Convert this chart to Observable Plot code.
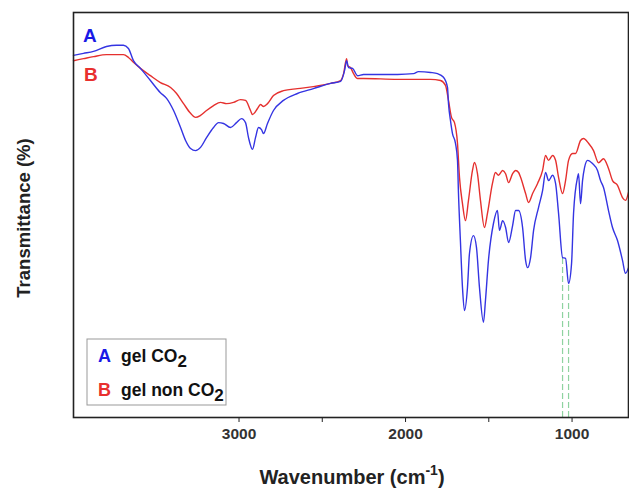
<!DOCTYPE html>
<html>
<head>
<meta charset="utf-8">
<script src="https://cdn.jsdelivr.net/npm/d3@7"></script>
<script src="https://cdn.jsdelivr.net/npm/@observablehq/plot@0.6"></script>
<style>
  html, body { margin: 0; padding: 0; background: #fff; }
  #chart { width: 629px; height: 491px; position: relative; }
</style>
</head>
<body>
<div id="chart"></div>
<script>
// Curve A: gel CO2 (wavenumber cm-1, transmittance, arbitrary %)
const wnA = [3994,3934,3874,3796,3736,3694,3664,3634,3592,3532,3472,3435,3393,3351,3321,3291,3261,3231,3195,3153,3123,3093,3051,3015,2985,2961,2943,2919,2901,2883,2865,2853,2829,2793,2733,2649,2553,2450,2390,2366,2354,2342,2318,2288,2252,2048,1952,1922,1850,1808,1772,1748,1742,1730,1718,1700,1688,1682,1670,1658,1646,1628,1616,1592,1574,1556,1532,1520,1502,1472,1448,1436,1417,1399,1381,1357,1339,1321,1297,1279,1267,1249,1231,1201,1177,1159,1141,1117,1099,1081,1057,1039,1021,1003,991,967,961,949,937,925,907,877,847,829,811,781,757,727,697,679,661];
const tA  = [89.4,89.9,90.4,91.6,91.9,91.9,91.1,88.1,86.2,83.2,80.2,78.8,75.8,71.6,68.4,66.4,65.9,66.7,69.1,71.6,72.8,72.6,71.6,72.8,73.8,72.8,69.1,66.2,69.1,71.6,71.1,70.1,72.6,75.8,78.3,80.0,81.2,82.5,83.0,85.7,88.1,86.4,86.2,84.4,84.7,84.7,84.9,85.4,85.2,84.9,84.0,81.5,77.5,73.3,70.1,67.7,63.5,55.3,43.2,32.1,26.4,32.1,40.5,44.9,42.0,32.1,23.5,28.9,38.8,47.9,51.1,46.2,48.6,46.9,43.2,47.4,51.1,51.1,46.9,38.8,37.0,39.5,46.2,51.9,56.0,60.5,58.5,59.8,57.8,50.4,39.5,39.3,33.1,38.0,50.4,59.3,60.2,52.8,58.5,61.7,63.5,62.7,61.0,58.5,56.8,51.1,46.9,43.7,38.8,35.6,37.0];

// Curve B: gel non CO2
const wnB = [3994,3934,3874,3796,3694,3664,3634,3592,3532,3472,3411,3375,3333,3291,3261,3231,3195,3153,3111,3075,3033,2991,2961,2931,2919,2889,2871,2853,2829,2793,2733,2649,2553,2450,2390,2372,2354,2348,2330,2312,2288,2252,2048,1850,1790,1760,1742,1724,1706,1688,1676,1658,1640,1622,1598,1586,1568,1550,1526,1508,1478,1460,1442,1417,1399,1381,1357,1339,1321,1309,1279,1261,1237,1207,1177,1159,1141,1117,1099,1081,1057,1039,1021,997,979,949,931,901,871,841,811,781,757,727,697,679,661];
const tB  = [88.1,88.6,89.1,89.6,89.6,88.9,87.7,86.2,84.4,82.7,81.5,80.0,77.5,75.1,74.1,74.6,75.8,77.0,77.8,77.5,77.8,78.5,78.3,75.8,74.8,76.3,77.3,76.8,77.5,79.5,80.7,81.2,81.7,82.5,83.2,84.9,88.6,86.9,86.4,84.9,83.7,83.7,83.5,83.5,83.2,82.0,78.3,74.1,72.8,67.7,59.3,52.8,48.6,53.6,61.0,63.0,60.2,53.6,46.9,50.4,57.8,60.5,59.8,61.0,60.2,58.0,60.2,61.0,60.5,59.3,55.3,53.1,55.3,57.8,61.0,64.7,63.5,64.7,63.5,59.3,55.3,58.5,63.5,65.2,65.2,68.4,68.9,67.7,65.9,62.9,63.9,61.5,58.5,57.3,54.3,53.6,55.6];

// Dashed marker lines (wavenumber, upper end)
const markWn  = [1057, 1021];
const markTop = [39.5, 33.1];

const majorTicks = [3000, 2000, 1000];
const minorTicks = [2500, 1500];

const seriesA = wnA.map((w, i) => ({wn: w, t: tA[i]}));
const seriesB = wnB.map((w, i) => ({wn: w, t: tB[i]}));
const marks = markWn.map((w, i) => ({wn: w, top: markTop[i]}));

const blue = "#3434e2";
const red = "#e5302e";

const plot = Plot.plot({
  width: 629,
  height: 491,
  marginLeft: 73,
  marginRight: 1,
  marginTop: 12,
  marginBottom: 74,
  style: {fontFamily: "'Liberation Sans', Arial, sans-serif", fontWeight: "bold", background: "#fff"},
  x: {domain: [3994, 661]},
  y: {domain: [0, 100], axis: null},
  marks: [
    Plot.ruleX(marks, {x: "wn", y1: 0, y2: "top", stroke: "#8fd3a0", strokeWidth: 1.2, strokeDasharray: "6,3"}),
    Plot.line(seriesB, {x: "wn", y: "t", stroke: red, strokeWidth: 1.4, curve: "monotone-x"}),
    Plot.line(seriesA, {x: "wn", y: "t", stroke: blue, strokeWidth: 1.4, curve: "monotone-x"}),
    Plot.axisX({ticks: majorTicks, tickSize: 5, tickPadding: 5, fontSize: 15.5, fill: "#333", stroke: "#222", label: null, tickFormat: d => String(d)}),
    Plot.axisX({ticks: minorTicks, tickSize: 5, tickFormat: () => "", stroke: "#222", label: null}),
    Plot.frame({stroke: "#222", strokeWidth: 1.6})
  ]
});
document.getElementById("chart").appendChild(plot);

const svg = d3.select(plot);
const ff = "'Liberation Sans', Arial, sans-serif";

// Axis titles
const xt = svg.append("text")
  .attr("x", 352).attr("y", 484)
  .attr("text-anchor", "middle")
  .attr("font-family", ff).attr("font-weight", "bold").attr("font-size", 20).attr("fill", "#222");
xt.append("tspan").text("Wavenumber (cm");
xt.append("tspan").attr("dy", -9).attr("font-size", 14).text("-1");
xt.append("tspan").attr("dy", 9).text(")");

svg.append("text")
  .attr("transform", "translate(30,218) rotate(-90)")
  .attr("text-anchor", "middle")
  .attr("font-family", ff).attr("font-weight", "bold").attr("font-size", 18.5).attr("fill", "#222")
  .text("Transmittance (%)");

// Curve labels
svg.append("text").attr("x", 83).attr("y", 42).attr("text-anchor", "start")
  .attr("font-family", ff).attr("font-weight", "bold").attr("font-size", 19).attr("fill", "#1a1ae6").text("A");
svg.append("text").attr("x", 84).attr("y", 81).attr("text-anchor", "start")
  .attr("font-family", ff).attr("font-weight", "bold").attr("font-size", 19).attr("fill", "#e8302e").text("B");

// Legend
svg.append("rect").attr("x", 87).attr("y", 339).attr("width", 139).attr("height", 66)
  .attr("fill", "#fff").attr("stroke", "#999").attr("stroke-width", 1);
const rows = [
  {key: "A", color: "#1a1ae6", label: "gel CO", y: 362},
  {key: "B", color: "#e8302e", label: "gel non CO", y: 396}
];
rows.forEach(r => {
  svg.append("text").attr("x", 98).attr("y", r.y).attr("text-anchor", "start")
    .attr("font-family", ff).attr("font-weight", "bold").attr("font-size", 18).attr("fill", r.color).text(r.key);
  const t = svg.append("text").attr("x", 121).attr("y", r.y).attr("text-anchor", "start")
    .attr("font-family", ff).attr("font-weight", "bold").attr("font-size", 17.5).attr("fill", "#111");
  t.append("tspan").text(r.label);
  t.append("tspan").attr("dy", 5).attr("font-size", 17).text("2");
});
</script>
</body>
</html>
